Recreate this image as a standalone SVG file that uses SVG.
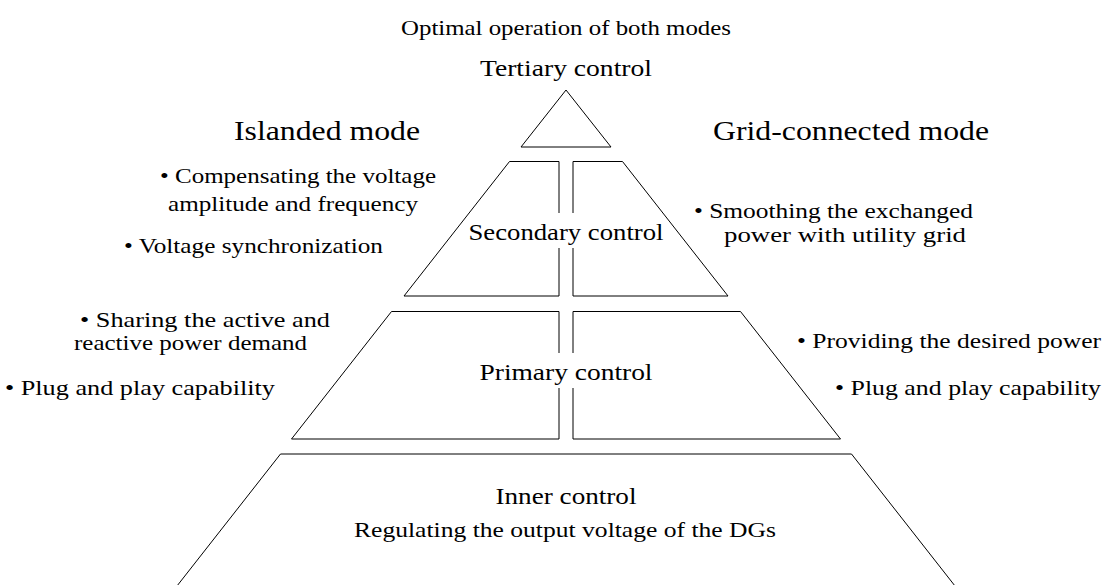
<svg xmlns="http://www.w3.org/2000/svg" width="1103" height="585" viewBox="0 0 1103 585">
<style>
.sh{fill:#fff;stroke:#000;stroke-width:1;stroke-linejoin:miter}
text{font-family:"Liberation Serif","Times New Roman",serif;fill:#000}
.hd{font-size:28px}
.lb{font-size:23.5px}
.bt{font-size:21px}
.gap{fill:#fff;stroke:none}
</style>
<rect width="1103" height="585" fill="#fff"/>
<g id="title">
<text class="bt" x="566" y="35" text-anchor="middle" textLength="330" lengthAdjust="spacingAndGlyphs">Optimal operation of both modes</text>
</g>
<g id="tertiary">
<text class="lb" x="566" y="76" text-anchor="middle" textLength="172" lengthAdjust="spacingAndGlyphs">Tertiary control</text>
<polygon class="sh" points="566,90 611,147 521,147"/>
</g>
<g id="islanded-header">
<text class="hd" x="234" y="140" textLength="186" lengthAdjust="spacingAndGlyphs">Islanded mode</text>
</g>
<g id="grid-header">
<text class="hd" x="713" y="140" textLength="276" lengthAdjust="spacingAndGlyphs">Grid-connected mode</text>
</g>
<g id="secondary">
<polygon class="sh" points="509.5,161.5 559,161.5 559,296 404,296"/>
<polygon class="sh" points="573,161.5 622.5,161.5 728,296 573,296"/>
<rect class="gap" x="554" y="213" width="25" height="35"/>
<text class="lb" x="566" y="240" text-anchor="middle" textLength="195" lengthAdjust="spacingAndGlyphs">Secondary control</text>
</g>
<g id="secondary-islanded">
<text class="bt" x="160" y="183" textLength="276" lengthAdjust="spacingAndGlyphs">• Compensating the voltage</text>
<text class="bt" x="168" y="211" textLength="250" lengthAdjust="spacingAndGlyphs">amplitude and frequency</text>
<text class="bt" x="124" y="253" textLength="259" lengthAdjust="spacingAndGlyphs">• Voltage synchronization</text>
</g>
<g id="secondary-grid">
<text class="bt" x="694" y="218" textLength="279" lengthAdjust="spacingAndGlyphs">• Smoothing the exchanged</text>
<text class="bt" x="724" y="242" textLength="242" lengthAdjust="spacingAndGlyphs">power with utility grid</text>
</g>
<g id="primary">
<polygon class="sh" points="391.5,311.5 559,311.5 559,439 291.5,439"/>
<polygon class="sh" points="573,311.5 740.5,311.5 840.5,439 573,439"/>
<rect class="gap" x="554" y="353" width="25" height="35"/>
<text class="lb" x="566" y="380" text-anchor="middle" textLength="173" lengthAdjust="spacingAndGlyphs">Primary control</text>
</g>
<g id="primary-islanded">
<text class="bt" x="80" y="327" textLength="250" lengthAdjust="spacingAndGlyphs">• Sharing the active and</text>
<text class="bt" x="74" y="350" textLength="233" lengthAdjust="spacingAndGlyphs">reactive power demand</text>
<text class="bt" x="5" y="395" textLength="270" lengthAdjust="spacingAndGlyphs">• Plug and play capability</text>
</g>
<g id="primary-grid">
<text class="bt" x="797" y="348" textLength="304" lengthAdjust="spacingAndGlyphs">• Providing the desired power</text>
<text class="bt" x="835" y="395" textLength="266" lengthAdjust="spacingAndGlyphs">• Plug and play capability</text>
</g>
<g id="inner">
<polygon class="sh" points="280.5,454 851.5,454 966,600 166,600"/>
<text class="lb" x="566" y="504" text-anchor="middle" textLength="141" lengthAdjust="spacingAndGlyphs">Inner control</text>
<text class="bt" x="565" y="537" text-anchor="middle" textLength="422" lengthAdjust="spacingAndGlyphs">Regulating the output voltage of the DGs</text>
</g>
<g id="connectors"></g>
</svg>
